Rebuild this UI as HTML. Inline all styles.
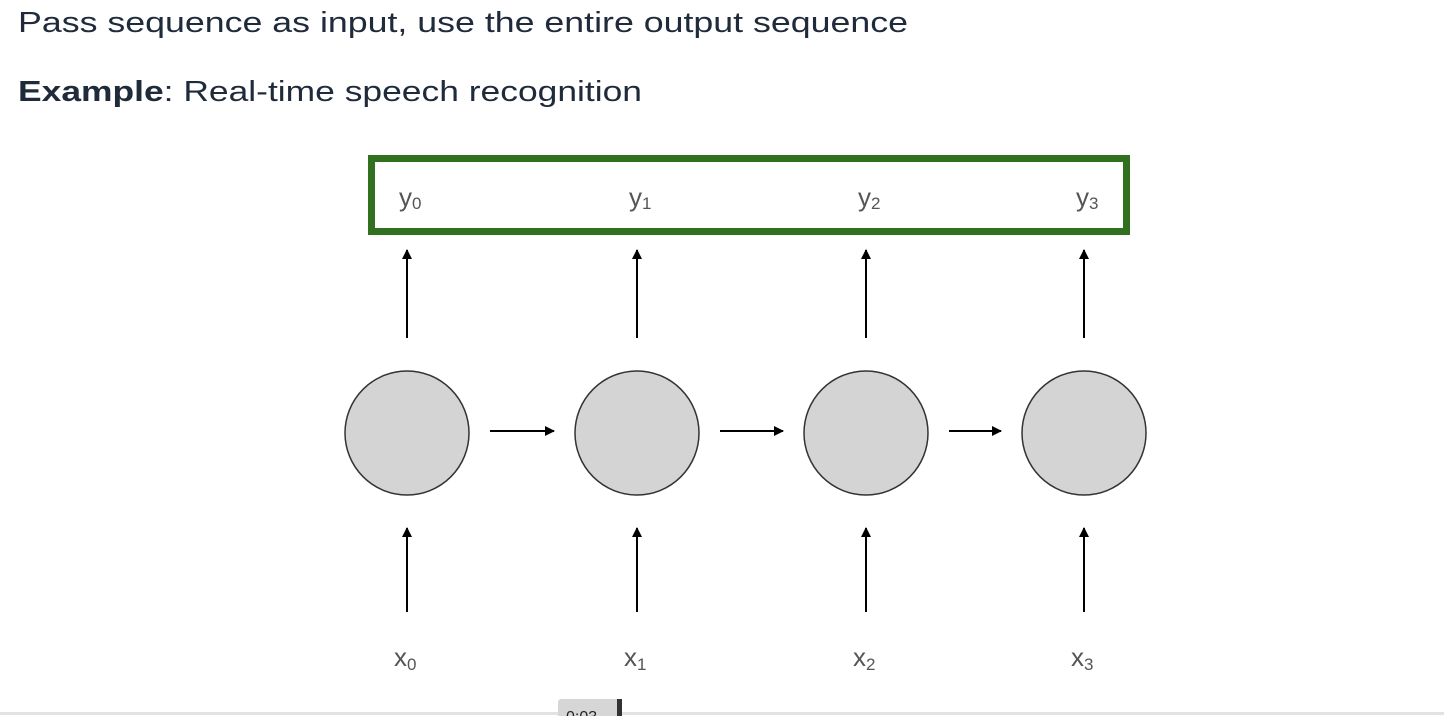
<!DOCTYPE html>
<html><head><meta charset="utf-8"><style>
html,body{margin:0;padding:0;background:#fff;}
svg{display:block;font-family:"Liberation Sans",sans-serif;}
</style></head><body>
<svg id="c" width="1444" height="716" viewBox="0 0 1444 716">
<defs><marker id="ah" markerWidth="10" markerHeight="10" refX="9" refY="5" orient="auto" markerUnits="userSpaceOnUse"><path d="M0,0 L10,5 L0,10 z" fill="#000"/></marker></defs>
<text x="18" y="32" font-size="29" fill="#1f2a3a" textLength="890" lengthAdjust="spacingAndGlyphs">Pass sequence as input, use the entire output sequence</text>
<text x="18" y="101" font-size="29" fill="#1f2a3a" textLength="624" lengthAdjust="spacingAndGlyphs"><tspan font-weight="bold">Example</tspan>: Real-time speech recognition</text>
<rect x="371.5" y="158.5" width="755" height="73" fill="none" stroke="#31701f" stroke-width="7"/>
<g id="g"></g>
<line x1="0" y1="713.5" x2="1444" y2="713.5" stroke="#e4e2de" stroke-width="3"/>
<rect x="558" y="699" width="62" height="20" rx="3" fill="#d6d6d6"/>
<rect x="617" y="699" width="5" height="20" fill="#333"/>
<text x="566" y="722" font-size="16" fill="#222">0:03</text>
</svg>
<script>
const steps=['0','1','2','3'];
const centersX=[407,637,866,1084];
const g=document.getElementById('g');
const ns='http://www.w3.org/2000/svg';
function mk(t,a){const e=document.createElementNS(ns,t);for(const k in a)e.setAttribute(k,a[k]);g.appendChild(e);return e;}
steps.forEach((s,i)=>{
  const cx=centersX[i];
  let c=mk('circle',{cx:cx,cy:433,r:62,fill:'#d4d4d4',stroke:'#333','stroke-width':1.5});
  
  
  let a=mk('line',{x1:cx,y1:338,x2:cx,y2:250,stroke:'#000','stroke-width':2,'marker-end':'url(#ah)'});
  
  
  let b=mk('line',{x1:cx,y1:612,x2:cx,y2:528,stroke:'#000','stroke-width':2,'marker-end':'url(#ah)'});
  
  
  let y=mk('text',{x:cx-8,y:206,'font-size':26,fill:'#555'});
  y.innerHTML='y<tspan font-size="17" dy="3">'+s+'</tspan>';
  
  
  let x=mk('text',{x:cx-13,y:666,'font-size':26,fill:'#555'});
  x.innerHTML='x<tspan font-size="17" dy="4">'+s+'</tspan>';
  
  
  if(i<steps.length-1){
    const x1=cx+83,x2=centersX[i+1]-83;
    let h=mk('line',{x1:x1,y1:431,x2:x2,y2:431,stroke:'#000','stroke-width':2,'marker-end':'url(#ah)'});
    
    
  }
});
</script>
</body></html>
